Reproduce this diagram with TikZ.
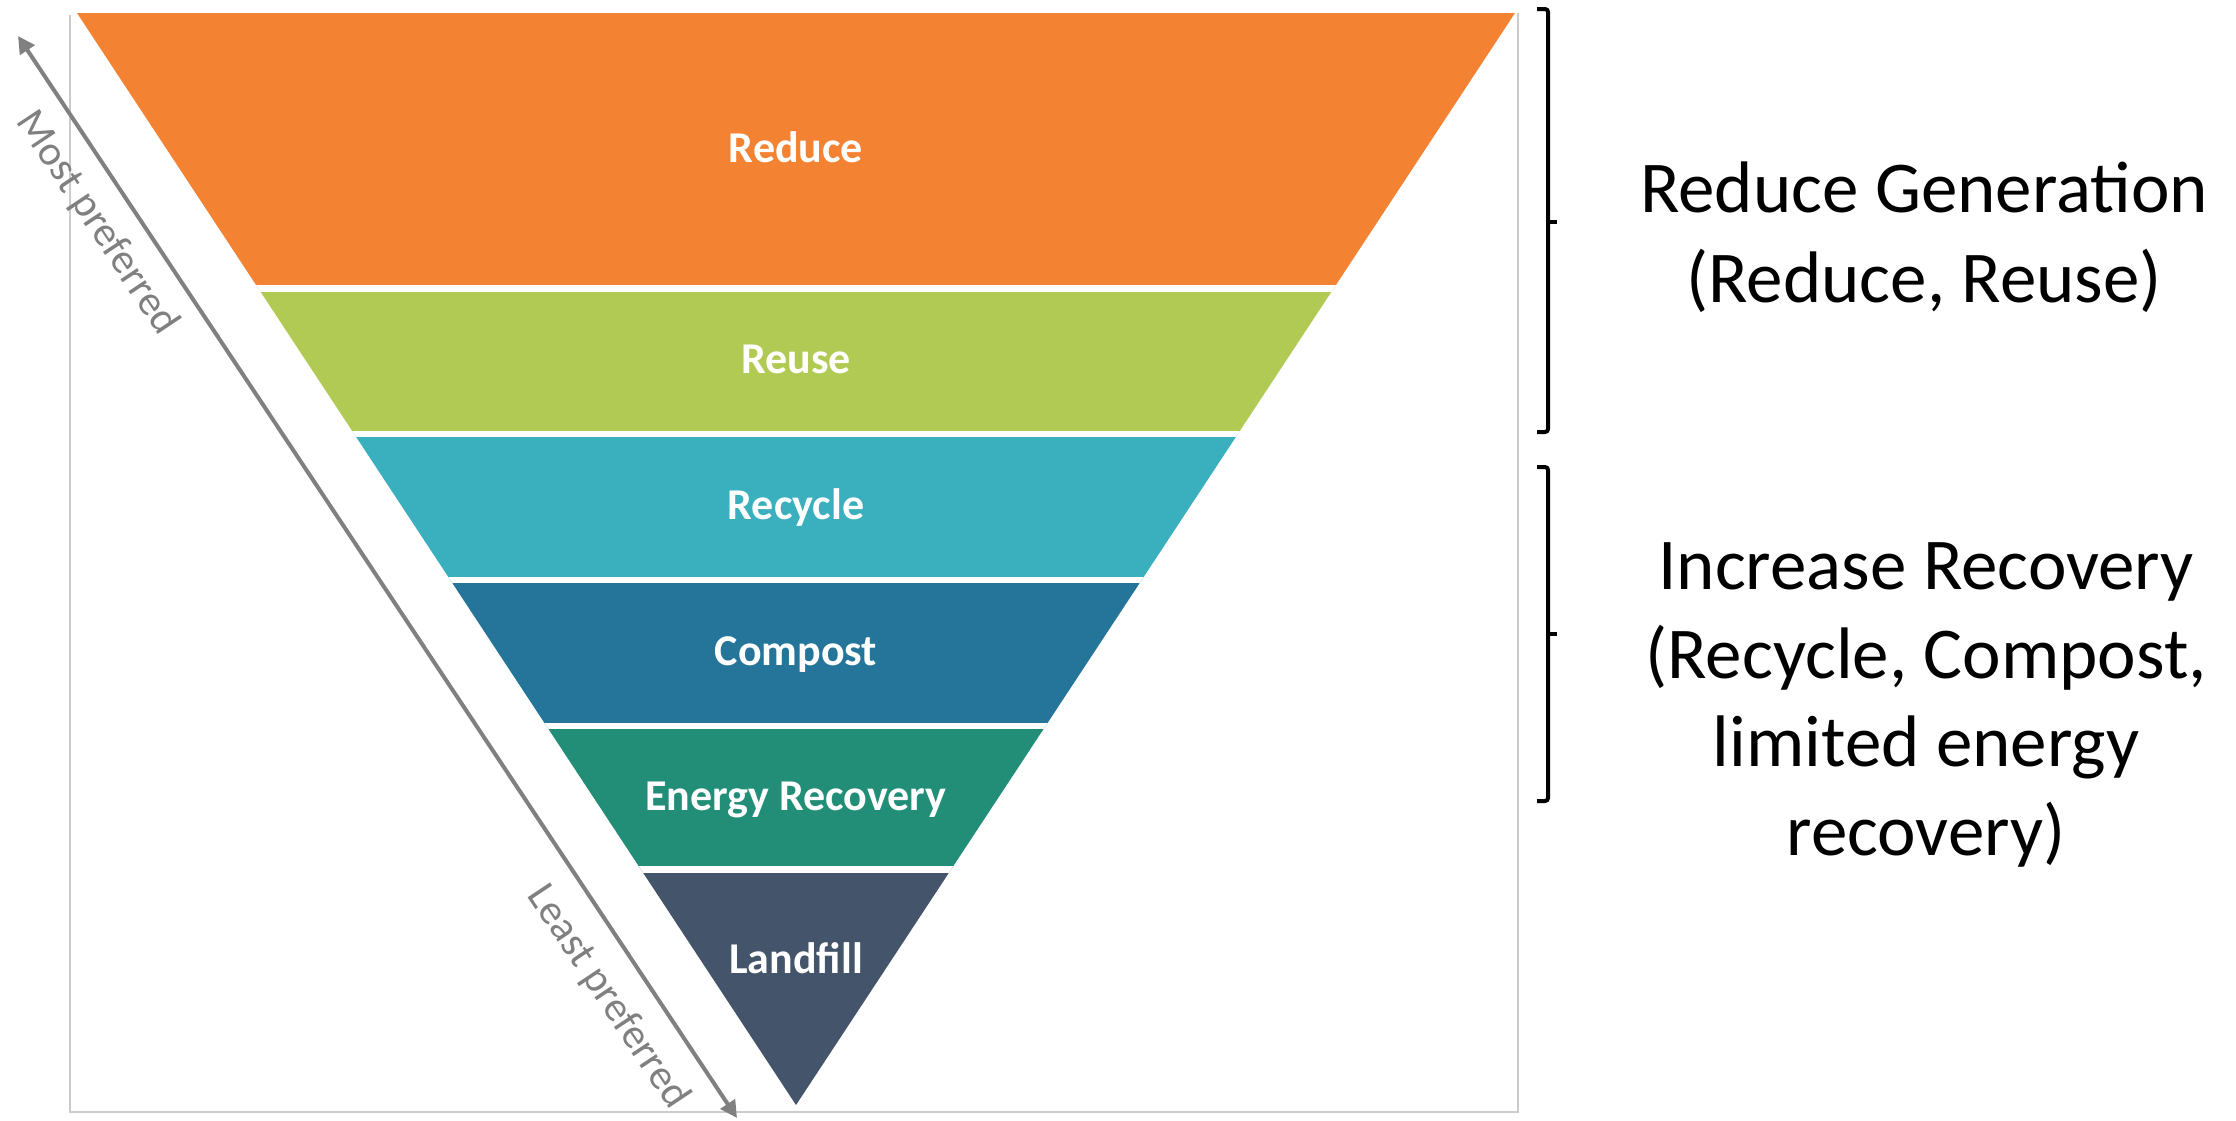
\documentclass[tikz,border=0pt]{standalone}
\usepackage{fontspec}
\setmainfont{Carlito}
\usetikzlibrary{arrows.meta}
\definecolor{cReduce}{HTML}{F48233}
\definecolor{cReuse}{HTML}{B0CA54}
\definecolor{cRecycle}{HTML}{3AAFBE}
\definecolor{cCompost}{HTML}{247599}
\definecolor{cEnergy}{HTML}{228E77}
\definecolor{cLandfill}{HTML}{44546A}
\definecolor{cArrow}{HTML}{808080}
\definecolor{cFrame}{HTML}{CCCCCC}
\tikzset{
  bandlabel/.style={anchor=base, text=white, inner sep=0pt,
    font=\fontsize{22pt}{26pt}\selectfont\bfseries},
  sidetext/.style={anchor=base, text=black, inner sep=0pt,
    font=\fontsize{36.5pt}{44.75pt}\selectfont},
  preflabel/.style={text=cArrow, inner sep=0pt, rotate=-56.3,
    font=\fontsize{21pt}{25pt}\selectfont},
  prefarrow/.style={draw=cArrow, line width=2pt,
    {Triangle[length=8.5pt,width=8.5pt]}-{Triangle[length=8.5pt,width=8.5pt]}},
  framelineA/.style={draw=cFrame, line width=1.2pt},
  bracketline/.style={draw=black, line width=2pt, rounded corners=1.5pt},
  seam/.style={draw=white, line width=3.3pt}
}
\begin{document}
\begin{tikzpicture}[x=0.5pt,y=-0.5pt]
\useasboundingbox[fill=white] (0,0) rectangle (2236,1120);

% picture frame
\draw[framelineA] (70,15) -- (70,1112) -- (1518,1112) -- (1518,13);

% triangle corners
\coordinate (TL) at (77,13);
\coordinate (TR) at (1515,13);
\coordinate (AP) at (796,1105);

\begin{scope}
  \clip (TL) -- (TR) -- (AP) -- cycle;
  \fill[cReduce]   (0,0)   rectangle (2236,288.5);
  \fill[cReuse]    (0,288.5) rectangle (2236,434);
  \fill[cRecycle]  (0,434) rectangle (2236,580);
  \fill[cCompost]  (0,580) rectangle (2236,726);
  \fill[cEnergy]   (0,726) rectangle (2236,869.5);
  \fill[cLandfill] (0,869.5) rectangle (2236,1120);
  \draw[seam] (0,288.5) -- (2236,288.5);
  \draw[seam] (0,434) -- (2236,434);
  \draw[seam] (0,580) -- (2236,580);
  \draw[seam] (0,726) -- (2236,726);
  \draw[seam] (0,869.5) -- (2236,869.5);
\end{scope}

% band labels
\node[bandlabel] (lReduce)   at (796,162) {Reduce};
\node[bandlabel] (lReuse)    at (796,373) {Reuse};
\node[bandlabel] (lRecycle)  at (796,519) {Recycle};
\node[bandlabel] (lCompost)  at (796,665) {Compost};
\node[bandlabel] (lEnergy)   at (796,810) {Energy Recovery};
\node[bandlabel] (lLandfill) at (796,973) {Landfill};

% preference arrow
\coordinate (AT) at (18,36);
\coordinate (AB) at (737,1118);
\draw[prefarrow] (AT) -- (AB);
\node[preflabel] (most)  at (97,223)  {Most preferred};
\node[preflabel] (least) at (608,997) {Least preferred};

% brackets
\draw[bracketline] (1537,9) -- (1548,9) -- (1548,432) -- (1537,432);
\draw[bracketline] (1548,222) -- (1557,222);
\draw[bracketline] (1537,467) -- (1548,467) -- (1548,801) -- (1537,801);
\draw[bracketline] (1548,634) -- (1557,634);

% side texts
\node[sidetext] (g1a) at (1924,212) {Reduce Generation};
\node[sidetext] (g1b) at (1924,302) {(Reduce, Reuse)};
\node[sidetext] (g2a) at (1926,589) {Increase Recovery};
\node[sidetext] (g2b) at (1926,678) {(Recycle, Compost,};
\node[sidetext] (g2c) at (1926,766) {limited energy};
\node[sidetext] (g2d) at (1926,855) {recovery)};
\end{tikzpicture}
\end{document}
